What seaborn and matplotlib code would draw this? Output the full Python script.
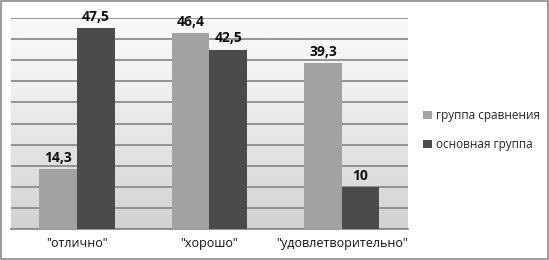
import numpy as np
import pandas as pd
import seaborn as sns
import matplotlib.pyplot as plt
from matplotlib.patches import Rectangle

categories = ['"отлично"', '"хорошо"', '"удовлетворительно"']
groups = ['группа сравнения', 'основная группа']
comparison = [14.3, 46.4, 39.3]
main = [47.5, 42.5, 10]

df = pd.DataFrame({
    'category': categories * 2,
    'group': [groups[0]] * 3 + [groups[1]] * 3,
    'value': comparison + main,
})

sns.set_theme(style='white')
plt.rcParams['font.family'] = ['Open Sans', 'DejaVu Sans']

fig = plt.figure(figsize=(5.49, 2.6), dpi=100)
ax = fig.add_axes([0.020, 0.119, 0.723, 0.812])

# gradient background of the plot area
grad = np.linspace(1, 0, 256).reshape(-1, 1)
ax.imshow(grad, cmap='Greys', vmin=-0.2, vmax=4.0, aspect='auto',
          extent=[-0.5, 2.5, 0, 50], zorder=0, origin='lower')

sns.barplot(data=df, x='category', y='value', hue='group',
            palette=['#a2a2a2', '#4b4b4b'], width=0.57, gap=0,
            saturation=1, ax=ax, zorder=3, edgecolor='none')

for cont in ax.containers:
    labels = [f"{b.get_height():g}".replace('.', ',') for b in cont]
    ax.bar_label(cont, labels=labels, padding=3, fontsize=10,
                 fontweight='bold', color='#111111')

ax.set_xlim(-0.5, 2.5)
ax.set_ylim(0, 50)
ax.set_yticks(np.arange(0, 51, 5))
ax.set_yticklabels([])
ax.yaxis.grid(True, color='#8c8c8c', linewidth=1.3, zorder=1)
ax.set_axisbelow(True)
ax.tick_params(axis='y', length=0)
ax.set_xticks([0, 1, 2])
ax.set_xticklabels(categories, fontsize=9, color='#111111')
ax.tick_params(axis='x', length=0, pad=6)
ax.set_xticks([-0.5, 0.5, 1.5, 2.5], minor=True)
ax.tick_params(axis='x', which='minor', length=3, color='#888888', direction='out')
ax.set_xlabel('')
ax.set_ylabel('')
for s in ['top', 'right', 'left']:
    ax.spines[s].set_visible(False)
ax.spines['bottom'].set_color('#888888')

handles, labs = ax.get_legend_handles_labels()
fig.legend(handles, labs, loc='center left', bbox_to_anchor=(0.752, 0.50),
           frameon=False, fontsize=8.5, handlelength=0.7, handleheight=0.7,
           handletextpad=0.4, labelspacing=1.35)
ax.get_legend().remove()

fig.patches.append(Rectangle((0.002, 0.004), 0.996, 0.992, transform=fig.transFigure,
                             fill=False, edgecolor='#8a8a8a', linewidth=1.2))

fig.savefig('out.png', dpi=100)
